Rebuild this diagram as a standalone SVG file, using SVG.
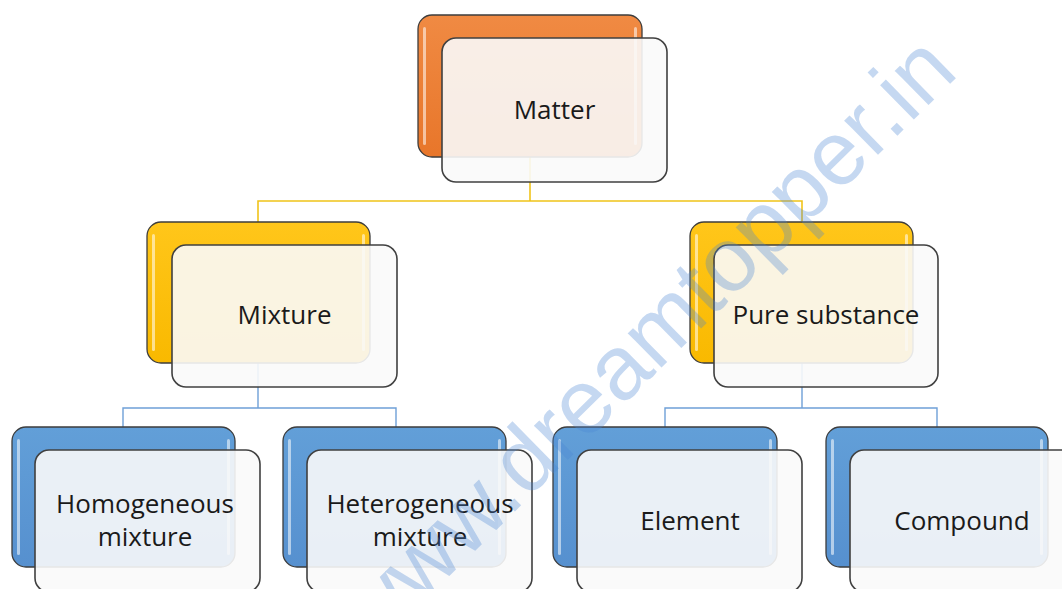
<svg xmlns="http://www.w3.org/2000/svg" width="1062" height="589" viewBox="0 0 1062 589">
<defs>
<linearGradient id="gO" x1="0" y1="0" x2="0" y2="1"><stop offset="0" stop-color="#f08a43"/><stop offset="1" stop-color="#e8762a"/></linearGradient>
<linearGradient id="gY" x1="0" y1="0" x2="0" y2="1"><stop offset="0" stop-color="#ffc61a"/><stop offset="1" stop-color="#f9b900"/></linearGradient>
<linearGradient id="gB" x1="0" y1="0" x2="0" y2="1"><stop offset="0" stop-color="#629fd8"/><stop offset="1" stop-color="#5690cf"/></linearGradient>
</defs>
<style>
.back{stroke:#3d3d3d;stroke-width:1.3}
.o{fill:url(#gO)}
.y{fill:url(#gY)}
.b{fill:url(#gB)}
.hl{fill:#ffffff;opacity:.55}
.front{fill:#f9f9f9;fill-opacity:.9;stroke:#404040;stroke-width:1.6}
.lbl{font-family:"Open Sans","Liberation Sans",sans-serif;font-size:26px;fill:#1a1a1a;text-anchor:middle}
.cy{fill:none;stroke:#f0c419;stroke-width:1.6}
.cb{fill:none;stroke:#6fa0d8;stroke-width:1.4}
.wm{font-family:"Liberation Sans","DejaVu Sans",sans-serif;font-size:91px;fill:#4a86d4;fill-opacity:.32}
</style>
<rect width="1062" height="589" fill="#ffffff"/>
<g id="connectors">
<path class="cy" d="M530 157V201M258 222V201H802V222"/>
<path class="cb" d="M258 363V408M123 427V408H396V427"/>
<path class="cb" d="M802 363V408M665 427V408H937V427"/>
</g>
<g id="matter">
<rect class="back o" x="418" y="15" width="224" height="142" rx="14"/>
<rect class="hl" x="423" y="27" width="3" height="118" rx="1.5"/>
<rect class="hl" x="634" y="27" width="3" height="118" rx="1.5"/>
<rect class="front" x="442" y="38" width="225" height="144" rx="14"/>
<text class="lbl" x="554.5" y="119">Matter</text>
</g>
<g id="mixture">
<rect class="back y" x="147" y="222" width="223" height="141" rx="14"/>
<rect class="hl" x="152" y="234" width="3" height="117" rx="1.5"/>
<rect class="hl" x="362" y="234" width="3" height="117" rx="1.5"/>
<rect class="front" x="172" y="245" width="225" height="142" rx="14"/>
<text class="lbl" x="284.5" y="324">Mixture</text>
</g>
<g id="pure-substance">
<rect class="back y" x="690" y="222" width="223" height="141" rx="14"/>
<rect class="hl" x="695" y="234" width="3" height="117" rx="1.5"/>
<rect class="hl" x="905" y="234" width="3" height="117" rx="1.5"/>
<rect class="front" x="714" y="245" width="224" height="142" rx="14"/>
<text class="lbl" x="826" y="324">Pure substance</text>
</g>
<g id="homogeneous">
<rect class="back b" x="12" y="427" width="223" height="140" rx="14"/>
<rect class="hl" x="17" y="439" width="3" height="116" rx="1.5"/>
<rect class="hl" x="227" y="439" width="3" height="116" rx="1.5"/>
<rect class="front" x="35" y="450" width="225" height="142" rx="14"/>
<text class="lbl" x="145" y="513">Homogeneous</text>
<text class="lbl" x="145" y="546">mixture</text>
</g>
<g id="heterogeneous">
<rect class="back b" x="283" y="427" width="223" height="140" rx="14"/>
<rect class="hl" x="288" y="439" width="3" height="116" rx="1.5"/>
<rect class="hl" x="498" y="439" width="3" height="116" rx="1.5"/>
<rect class="front" x="307" y="450" width="225" height="142" rx="14"/>
<text class="lbl" x="420" y="513">Heterogeneous</text>
<text class="lbl" x="420" y="546">mixture</text>
</g>
<g id="element">
<rect class="back b" x="553" y="427" width="224" height="140" rx="14"/>
<rect class="hl" x="558" y="439" width="3" height="116" rx="1.5"/>
<rect class="hl" x="769" y="439" width="3" height="116" rx="1.5"/>
<rect class="front" x="577" y="450" width="225" height="142" rx="14"/>
<text class="lbl" x="690" y="530">Element</text>
</g>
<g id="compound">
<rect class="back b" x="826" y="427" width="222" height="140" rx="14"/>
<rect class="hl" x="831" y="439" width="3" height="116" rx="1.5"/>
<rect class="hl" x="1040" y="439" width="3" height="116" rx="1.5"/>
<rect class="front" x="850" y="450" width="225" height="142" rx="14"/>
<text class="lbl" x="962" y="530">Compound</text>
</g>
<text class="wm" x="372" y="652" transform="rotate(-44.5 372 652)">www.dreamtopper.in</text>
</svg>
